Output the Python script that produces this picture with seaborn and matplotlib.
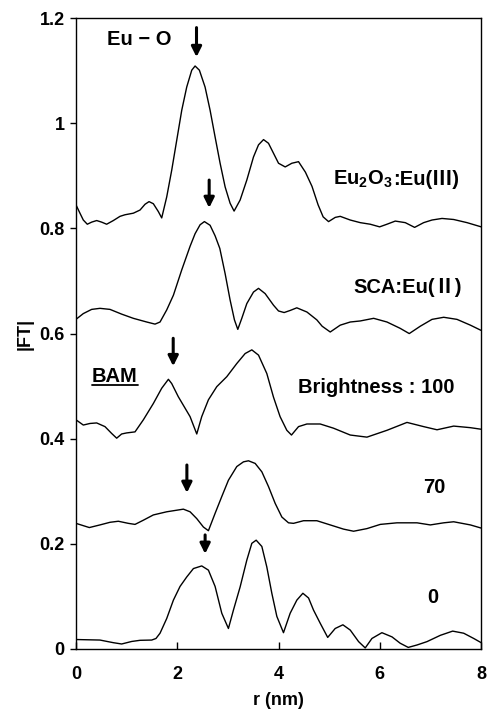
import matplotlib
matplotlib.use("Agg")
import matplotlib.pyplot as plt
import seaborn as sns
import pandas as pd

# ---- data ----
r_eu2o3 = [0, 0.079, 0.145, 0.224, 0.31, 0.409, 0.507, 0.606, 0.738, 0.87, 0.968, 1.133, 1.265,
           1.364, 1.443, 1.528, 1.627, 1.693, 1.792, 1.891, 1.99, 2.089, 2.187, 2.286, 2.352,
           2.437, 2.549, 2.648, 2.747, 2.846, 2.945, 3.043, 3.122, 3.241, 3.373, 3.505, 3.604,
           3.703, 3.801, 3.9, 3.999, 4.131, 4.262, 4.394, 4.53, 4.66, 4.78, 4.88, 4.987, 5.119,
           5.217, 5.415, 5.613, 5.81, 5.995, 6.14, 6.304, 6.502, 6.686, 6.864, 7.029, 7.227,
           7.457, 7.721, 8.0]
ft_eu2o3 = [0.845, 0.829, 0.816, 0.808, 0.812, 0.815, 0.812, 0.808, 0.815, 0.823, 0.826, 0.829,
            0.835, 0.846, 0.851, 0.847, 0.832, 0.820, 0.860, 0.911, 0.968, 1.025, 1.069, 1.101,
            1.109, 1.101, 1.069, 1.025, 0.974, 0.924, 0.879, 0.848, 0.833, 0.854, 0.892, 0.936,
            0.959, 0.969, 0.962, 0.943, 0.924, 0.917, 0.924, 0.927, 0.907, 0.880, 0.845, 0.822,
            0.813, 0.821, 0.823, 0.816, 0.811, 0.808, 0.803, 0.808, 0.814, 0.811, 0.802, 0.811,
            0.816, 0.819, 0.817, 0.811, 0.803]

r_sca = [0, 0.145, 0.31, 0.474, 0.672, 0.902, 1.133, 1.397, 1.561, 1.66, 1.792, 1.924, 2.088,
         2.253, 2.352, 2.451, 2.536, 2.648, 2.747, 2.84, 2.945, 3.043, 3.129, 3.195, 3.274, 3.373,
         3.505, 3.604, 3.735, 3.9, 3.999, 4.11, 4.23, 4.36, 4.56, 4.756, 4.86, 5.02, 5.217,
         5.415, 5.613, 5.877, 6.14, 6.4, 6.58, 6.798, 7.029, 7.26, 7.523, 7.787, 8.0]
ft_sca = [0.627, 0.638, 0.646, 0.648, 0.646, 0.637, 0.629, 0.622, 0.618, 0.622, 0.645, 0.673,
          0.721, 0.766, 0.790, 0.807, 0.813, 0.806, 0.786, 0.762, 0.714, 0.664, 0.626, 0.608,
          0.629, 0.657, 0.679, 0.686, 0.676, 0.654, 0.643, 0.640, 0.644, 0.649, 0.641, 0.626,
          0.614, 0.603, 0.616, 0.622, 0.624, 0.629, 0.622, 0.610, 0.600, 0.614, 0.627, 0.631,
          0.627, 0.616, 0.606]

r_b100 = [0, 0.145, 0.277, 0.409, 0.573, 0.705, 0.804, 0.902, 1.0, 1.166, 1.331, 1.528, 1.693,
          1.825, 1.89, 2.02, 2.253, 2.385, 2.483, 2.615, 2.78, 2.978, 3.175, 3.34, 3.472, 3.604,
          3.768, 3.9, 4.03, 4.163, 4.255, 4.394, 4.559, 4.822, 5.085, 5.415, 5.745, 6.14, 6.535,
          6.864, 7.128, 7.457, 7.787, 8.0]
ft_b100 = [0.436, 0.426, 0.429, 0.430, 0.423, 0.410, 0.401, 0.409, 0.411, 0.413, 0.436, 0.467,
           0.496, 0.513, 0.505, 0.480, 0.442, 0.409, 0.442, 0.474, 0.499, 0.518, 0.543, 0.562,
           0.569, 0.559, 0.524, 0.479, 0.442, 0.416, 0.407, 0.423, 0.428, 0.428, 0.420, 0.407,
           0.403, 0.416, 0.431, 0.423, 0.417, 0.424, 0.421, 0.418]

r_b70 = [0, 0.264, 0.474, 0.672, 0.837, 1.034, 1.166, 1.331, 1.528, 1.792, 1.99, 2.121, 2.253,
         2.385, 2.516, 2.615, 2.747, 2.879, 3.01, 3.175, 3.307, 3.406, 3.538, 3.67, 3.801, 3.933,
         4.065, 4.196, 4.295, 4.493, 4.756, 5.02, 5.283, 5.481, 5.745, 6.008, 6.338, 6.733,
         6.996, 7.26, 7.457, 7.787, 8.0]
ft_b70 = [0.239, 0.231, 0.236, 0.241, 0.243, 0.239, 0.237, 0.245, 0.255, 0.261, 0.264, 0.266,
          0.261, 0.248, 0.232, 0.225, 0.258, 0.290, 0.321, 0.347, 0.356, 0.358, 0.353, 0.337,
          0.309, 0.277, 0.251, 0.240, 0.239, 0.244, 0.244, 0.236, 0.228, 0.224, 0.229, 0.237,
          0.240, 0.240, 0.236, 0.240, 0.242, 0.236, 0.230]

r_b0 = [0, 0.474, 0.738, 0.902, 1.1, 1.265, 1.496, 1.58, 1.66, 1.792, 1.924, 2.055, 2.187, 2.319,
        2.483, 2.615, 2.747, 2.879, 3.01, 3.109, 3.241, 3.373, 3.472, 3.558, 3.67, 3.768, 3.867,
        3.966, 4.097, 4.229, 4.361, 4.48, 4.592, 4.69, 4.822, 4.97, 5.118, 5.27, 5.415, 5.58,
        5.711, 5.843, 6.04, 6.24, 6.4, 6.56, 6.733, 6.93, 7.194, 7.437, 7.655, 7.853, 8.0]
ft_b0 = [0.018, 0.017, 0.012, 0.0095, 0.0143, 0.0165, 0.017, 0.020, 0.030, 0.058, 0.093, 0.119,
         0.137, 0.153, 0.158, 0.150, 0.119, 0.068, 0.039, 0.074, 0.118, 0.169, 0.201, 0.207,
         0.195, 0.156, 0.106, 0.062, 0.031, 0.068, 0.093, 0.106, 0.097, 0.074, 0.049, 0.022,
         0.039, 0.046, 0.036, 0.014, 0.002, 0.020, 0.031, 0.023, 0.011, 0.003, 0.0076, 0.014,
         0.026, 0.034, 0.030, 0.020, 0.012]

# Eu-O peak arrows (r position, arrow top, arrow tip)
arrow_r = [2.38, 2.63, 1.92, 2.19, 2.55]
arrow_top = [1.182, 0.892, 0.591, 0.350, 0.217]
arrow_tip = [1.126, 0.839, 0.538, 0.297, 0.181]

x_ticks = [0, 2, 4, 6, 8]
y_ticks = [0, 0.2, 0.4, 0.6, 0.8, 1.0, 1.2]
y_tick_labels = ["0", "0.2", "0.4", "0.6", "0.8", "1", "1.2"]

# ---- style ----
sns.set_style("ticks")
plt.rcParams['font.family'] = ['Liberation Sans', 'Noto Sans CJK JP', 'DejaVu Sans']
plt.rcParams['mathtext.fontset'] = 'custom'
plt.rcParams['mathtext.bf'] = 'Liberation Sans:bold'
plt.rcParams['mathtext.rm'] = 'Liberation Sans'

fig = plt.figure(figsize=(4.9, 7.12), dpi=100)
ax = fig.add_axes([0.155, 0.0885, 0.827, 0.886])

series = [(r_eu2o3, ft_eu2o3), (r_sca, ft_sca), (r_b100, ft_b100), (r_b70, ft_b70), (r_b0, ft_b0)]
for rr, ff in series:
    df = pd.DataFrame({"r": rr, "FT": ff})
    sns.lineplot(data=df, x="r", y="FT", ax=ax, color="black", linewidth=1.0,
                 sort=False, estimator=None)

for xr, yt, yb in zip(arrow_r, arrow_top, arrow_tip):
    ax.annotate("", xy=(xr, yb), xytext=(xr, yt),
                arrowprops=dict(arrowstyle="-|>,head_width=0.3,head_length=0.6",
                                lw=2.2, color="black", shrinkA=0, shrinkB=0,
                                mutation_scale=10))

ax.set_xlim(0, 8)
ax.set_ylim(0, 1.2)
ax.set_xticks(x_ticks)
ax.set_xticklabels([str(v) for v in x_ticks])
ax.set_yticks(y_ticks)
ax.set_yticklabels(y_tick_labels)
ax.tick_params(axis='x', direction='in', length=5, width=1, pad=12, labelsize=13, colors='black')
ax.tick_params(axis='y', direction='out', length=4, width=1, pad=4, labelsize=13, colors='black')
for lab in ax.get_xticklabels() + ax.get_yticklabels():
    lab.set_fontweight('bold')
for sp in ax.spines.values():
    sp.set_visible(True)
    sp.set_color('black')
    sp.set_linewidth(1.0)

ax.set_xlabel("r (nm)", fontsize=13, fontweight='bold', labelpad=7, color='black')
ax.set_ylabel("|FT|", fontsize=13, fontweight='bold', color='black')
ax.yaxis.set_label_coords(-0.105, 0.5)

fs = 14.5
tk = dict(fontsize=fs, fontweight='bold', color='black', va='baseline')
ax.text(0.613, 1.149, "Eu \u2212 O", ha='left', **tk)
ax.text(6.245, 0.8825, r"Eu$_\mathbf{2}$O$_\mathbf{3}$", ha='right', **tk)
ax.text(6.26, 0.8825, ":Eu(\u2162)", ha='left', **tk)
ax.text(5.47, 0.6765, "SCA:Eu(\u2161)", ha='left', **tk)
bam = ax.text(0.316, 0.508, "BAM", ha='left', **tk)
ax.text(4.387, 0.4875, "Brightness : 100", ha='left', **tk)
ax.text(6.86, 0.296, "70", ha='left', **tk)
ax.text(6.94, 0.087, "0", ha='left', **tk)

# underline BAM
fig.canvas.draw()
bb = bam.get_window_extent().transformed(ax.transData.inverted())
ax.plot([bb.x0, bb.x1], [0.503, 0.503], color='black', lw=1.3)

fig.savefig("out.png", dpi=100)
